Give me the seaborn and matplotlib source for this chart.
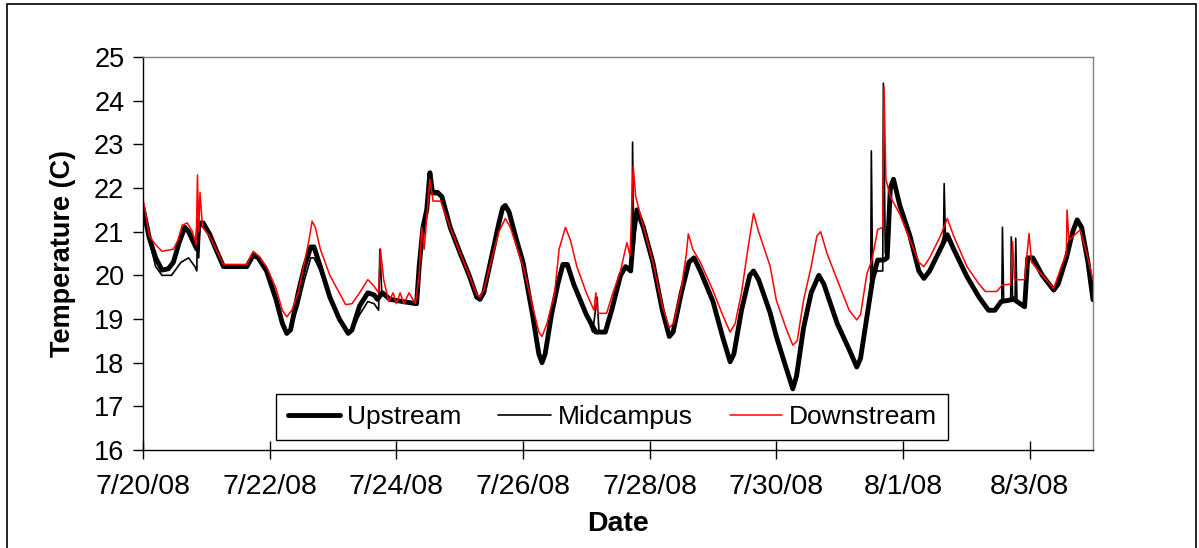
#! /usr/bin/env python3

import pandas as pd
import seaborn as sns
import matplotlib.pyplot as plt
from matplotlib.patches import Rectangle
from matplotlib.dates import num2date
from matplotlib.ticker import FuncFormatter

# readings: time in days after 7/20/08 00:00, temperature in C
up_days = [0.0, 0.1, 0.2, 0.3, 0.4, 0.48, 0.57, 0.66, 0.72, 0.8, 0.85, 0.88, 0.95, 1.05, 1.15,
           1.27, 1.64, 1.74, 1.82, 1.95, 2.1, 2.2, 2.27, 2.33, 2.45, 2.55, 2.65, 2.7, 2.8, 2.95,
           3.1, 3.24, 3.3, 3.42, 3.55, 3.65, 3.7, 3.78, 3.9, 4.1, 4.32, 4.36, 4.42, 4.48, 4.53,
           4.57, 4.65, 4.72, 4.85, 5.01, 5.15, 5.27, 5.32, 5.38, 5.5, 5.62, 5.68, 5.72, 5.78, 5.9,
           6.0, 6.15, 6.25, 6.3, 6.35, 6.45, 6.55, 6.63, 6.7, 6.8, 7.0, 7.15, 7.3, 7.4, 7.54,
           7.62, 7.7, 7.75, 7.8, 7.9, 8.05, 8.2, 8.31, 8.37, 8.5, 8.62, 8.7, 8.8, 9.0, 9.15,
           9.27, 9.33, 9.45, 9.58, 9.64, 9.72, 9.9, 10.0, 10.15, 10.26, 10.32, 10.43, 10.55, 10.67,
           10.75, 10.96, 11.15, 11.27, 11.33, 11.43, 11.52, 11.6, 11.7, 11.75, 11.8, 11.85, 11.95,
           12.11, 12.25, 12.33, 12.42, 12.59, 12.7, 12.8, 13.01, 13.2, 13.35, 13.45, 13.55, 13.75,
           13.92, 13.97, 14.05, 14.2, 14.38, 14.45, 14.58, 14.68, 14.75, 14.82, 14.92, 15.0]
up_temp = [21.55, 20.85, 20.4, 20.12, 20.15, 20.3, 20.75, 21.1, 21.0, 20.75, 20.6, 21.2, 21.2, 20.95, 20.6,
           20.2, 20.2, 20.46, 20.4, 20.1, 19.45, 18.9, 18.67, 18.75, 19.6, 20.2, 20.65, 20.65, 20.2, 19.5,
           19.0, 18.67, 18.75, 19.3, 19.6, 19.55, 19.45, 19.6, 19.45, 19.4, 19.35, 20.2, 21.1, 21.5, 22.35,
           21.9, 21.9, 21.8, 21.1, 20.5, 20.0, 19.5, 19.45, 19.6, 20.4, 21.2, 21.55, 21.6, 21.45, 20.8,
           20.3, 19.1, 18.2, 18.0, 18.2, 19.1, 19.8, 20.25, 20.25, 19.8, 19.1, 18.7, 18.7, 19.2, 20.0,
           20.2, 20.1, 21.0, 21.5, 21.1, 20.3, 19.2, 18.6, 18.7, 19.6, 20.3, 20.4, 20.1, 19.4, 18.6,
           18.02, 18.2, 19.2, 20.0, 20.1, 19.9, 19.15, 18.6, 17.9, 17.4, 17.7, 18.8, 19.6, 20.0,
           19.8, 18.9, 18.3, 17.9, 18.1, 19.05, 19.9, 20.35, 20.35, 20.4, 22.0, 22.2, 21.6,
           20.9, 20.1, 19.93, 20.1, 20.6, 20.93, 20.6, 19.97, 19.5, 19.2, 19.2, 19.4, 19.45,
           19.28, 20.4, 20.4, 20.0, 19.66, 19.8, 20.4, 21.0, 21.27, 21.1, 20.3, 19.44]

mid_days = [0.0, 0.1, 0.2, 0.3, 0.45, 0.6, 0.72, 0.82, 0.85, 0.86, 0.88, 0.9, 0.95, 1.05, 1.15,
            1.27, 1.64, 1.74, 1.82, 1.95, 2.1, 2.2, 2.27, 2.33, 2.45, 2.55, 2.65, 2.7, 2.8, 2.95,
            3.1, 3.24, 3.3, 3.42, 3.55, 3.65, 3.72, 3.74, 3.77, 3.9, 4.1, 4.32, 4.36, 4.42, 4.48,
            4.53, 4.57, 4.65, 4.72, 4.85, 5.01, 5.15, 5.27, 5.32, 5.38, 5.5, 5.62, 5.68, 5.72, 5.78,
            5.9, 6.0, 6.15, 6.25, 6.3, 6.35, 6.45, 6.55, 6.63, 6.7, 6.8, 7.0, 7.1, 7.17, 7.2,
            7.3, 7.4, 7.54, 7.62, 7.72, 7.73, 7.75, 7.8, 7.9, 8.05, 8.2, 8.31, 8.37, 8.5, 8.62,
            8.7, 8.8, 9.0, 9.15, 9.27, 9.33, 9.45, 9.58, 9.64, 9.72, 9.9, 10.0, 10.15, 10.26, 10.32,
            10.43, 10.55, 10.67, 10.75, 10.96, 11.15, 11.27, 11.33, 11.43, 11.49, 11.5, 11.52, 11.6,
            11.68, 11.69, 11.72, 11.8, 11.85, 11.95, 12.11, 12.25, 12.33, 12.42, 12.59, 12.64, 12.65,
            12.67, 12.8, 13.01, 13.2, 13.35, 13.45, 13.56, 13.57, 13.59, 13.7, 13.71, 13.73, 13.77,
            13.78, 13.8, 13.92, 13.97, 14.05, 14.2, 14.38, 14.45, 14.58, 14.68, 14.75, 14.82, 14.92, 15.0]
mid_temp = [21.55, 20.8, 20.2, 20.0, 20.0, 20.3, 20.4, 20.2, 20.1, 21.3, 20.4, 21.1, 21.15, 20.95, 20.6,
            20.2, 20.2, 20.45, 20.4, 20.1, 19.45, 18.9, 18.67, 18.75, 19.3, 19.9, 20.4, 20.4, 20.1, 19.5,
            19.0, 18.67, 18.75, 19.1, 19.4, 19.35, 19.2, 20.6, 19.6, 19.45, 19.4, 19.35, 20.3, 21.0, 21.4,
            22.2, 21.85, 21.85, 21.8, 21.1, 20.5, 20.0, 19.5, 19.45, 19.6, 20.4, 21.15, 21.5, 21.55, 21.4,
            20.8, 20.3, 19.1, 18.2, 18.0, 18.2, 19.1, 19.8, 20.2, 20.2, 19.8, 19.1, 18.7, 19.5, 18.7,
            18.7, 19.2, 19.95, 20.15, 20.1, 23.05, 20.6, 21.45, 21.1, 20.3, 19.2, 18.6, 18.7, 19.6, 20.3,
            20.4, 20.1, 19.4, 18.6, 18.02, 18.2, 19.2, 20.0, 20.1, 19.9, 19.15, 18.6, 17.9, 17.4, 17.7,
            18.8, 19.6, 20.0, 19.8, 18.9, 18.3, 17.9, 18.1, 19.05, 19.8, 22.85, 20.0, 20.1,
            20.1, 24.4, 20.5, 21.9, 22.1, 21.6, 20.9, 20.1, 19.93, 20.1, 20.6, 20.9, 22.1,
            20.9, 20.6, 19.97, 19.5, 19.2, 19.2, 19.4, 21.1, 19.4, 19.45, 20.88, 19.5, 19.5,
            20.85, 19.4, 19.28, 20.4, 20.4, 20.0, 19.66, 19.8, 20.4, 21.0, 21.2, 21.05, 20.3, 19.44]

down_days = [0.0, 0.1, 0.2, 0.3, 0.48, 0.55, 0.62, 0.7, 0.78, 0.84, 0.86, 0.88, 0.9, 0.94, 1.05,
             1.15, 1.27, 1.64, 1.74, 1.82, 1.95, 2.1, 2.2, 2.27, 2.35, 2.45, 2.55, 2.62, 2.67, 2.72,
             2.8, 2.95, 3.1, 3.2, 3.3, 3.42, 3.55, 3.65, 3.72, 3.75, 3.8, 3.88, 3.95, 4.0, 4.06,
             4.12, 4.2, 4.3, 4.36, 4.4, 4.44, 4.53, 4.58, 4.7, 4.85, 5.01, 5.15, 5.27, 5.32, 5.38,
             5.5, 5.62, 5.72, 5.8, 5.9, 6.0, 6.15, 6.25, 6.3, 6.38, 6.5, 6.57, 6.63, 6.67, 6.75,
             6.85, 7.0, 7.12, 7.15, 7.18, 7.32, 7.42, 7.54, 7.64, 7.69, 7.74, 7.78, 7.85, 8.05, 8.2,
             8.31, 8.38, 8.5, 8.58, 8.61, 8.68, 8.8, 9.0, 9.15, 9.27, 9.35, 9.45, 9.55, 9.64, 9.72,
             9.9, 10.0, 10.15, 10.26, 10.33, 10.43, 10.55, 10.64, 10.7, 10.8, 10.96, 11.15, 11.27,
             11.33, 11.43, 11.51, 11.6, 11.68, 11.7, 11.73, 11.8, 11.95, 12.11, 12.25, 12.33, 12.42,
             12.59, 12.7, 12.8, 13.01, 13.2, 13.3, 13.48, 13.57, 13.7, 13.73, 13.76, 13.92, 13.99,
             14.03, 14.2, 14.38, 14.5, 14.58, 14.59, 14.62, 14.75, 14.8, 14.9, 15.0]
down_temp = [21.75, 20.9, 20.7, 20.55, 20.6, 20.8, 21.15, 21.2, 21.0, 20.7, 22.3, 21.0, 21.9, 21.1, 20.9,
             20.6, 20.25, 20.25, 20.55, 20.45, 20.2, 19.7, 19.2, 19.05, 19.2, 19.6, 20.3, 20.8, 21.24, 21.1,
             20.6, 20.0, 19.6, 19.33, 19.35, 19.6, 19.9, 19.75, 19.6, 20.6, 19.9, 19.4, 19.6, 19.35, 19.6,
             19.35, 19.6, 19.35, 20.0, 21.1, 20.6, 22.2, 21.7, 21.7, 21.1, 20.5, 20.0, 19.55, 19.5, 19.65,
             20.35, 21.0, 21.3, 21.1, 20.65, 20.22, 19.3, 18.7, 18.6, 18.9, 19.6, 20.6, 20.9, 21.1, 20.8,
             20.2, 19.6, 19.2, 19.6, 19.13, 19.13, 19.6, 20.1, 20.75, 20.45, 22.5, 21.8, 21.4, 20.3, 19.3,
             18.8, 18.9, 19.7, 20.5, 20.95, 20.6, 20.3, 19.65, 19.1, 18.7, 18.9, 19.6, 20.6, 21.42, 21.0,
             20.22, 19.43, 18.8, 18.4, 18.5, 19.43, 20.2, 20.9, 21.0, 20.5, 19.9, 19.2, 18.98,
             19.1, 20.04, 20.35, 21.05, 21.1, 24.32, 22.2, 21.8, 21.4, 20.81, 20.3, 20.2, 20.4,
             20.9, 21.3, 20.9, 20.2, 19.8, 19.63, 19.63, 19.78, 19.8, 20.77, 19.9, 19.9, 20.96,
             20.3, 20.0, 19.7, 20.2, 20.5, 21.5, 20.8, 20.98, 21.04, 20.5, 19.9]

start = pd.Timestamp("2008-07-20")
major_dates = pd.date_range(start, periods=8, freq="2D")
minor_dates = pd.date_range(start, start + pd.Timedelta(days=15), freq="6h")


def to_frame(days, temps):
    return pd.DataFrame({"date": start + pd.to_timedelta(days, unit="D"), "temp": temps})


sns.set_style("white")
plt.rcParams["font.family"] = ["Liberation Sans", "DejaVu Sans"]
plt.rcParams.update({"text.color": "black", "axes.labelcolor": "black",
                     "xtick.color": "black", "ytick.color": "black"})

fig = plt.figure(figsize=(11.99, 5.48), dpi=100)
ax = fig.add_axes([143 / 1199, 1 - 450 / 548, 950 / 1199, 393 / 548])

sns.lineplot(data=to_frame(up_days, up_temp), x="date", y="temp", ax=ax,
             color="black", linewidth=3.5, label="Upstream")
sns.lineplot(data=to_frame(mid_days, mid_temp), x="date", y="temp", ax=ax,
             color="black", linewidth=1.2, label="Midcampus")
sns.lineplot(data=to_frame(down_days, down_temp), x="date", y="temp", ax=ax,
             color="#ff0000", linewidth=1.1, label="Downstream")

ax.set_xlim(start, start + pd.Timedelta(days=15))
ax.set_ylim(16, 25)
ax.set_yticks(range(16, 26))
ax.set_xticks(major_dates)
ax.set_xticks(minor_dates, minor=True)
ax.xaxis.set_major_formatter(FuncFormatter(
    lambda v, p: "%d/%d/%s" % (num2date(v).month, num2date(v).day, num2date(v).strftime("%y"))))

ax.tick_params(axis="y", direction="out", length=7.5, width=1, pad=6, labelsize=19.5,
               color="black", labelcolor="black")
ax.tick_params(axis="x", which="major", direction="inout", length=13, width=1, pad=11,
               labelsize=20.5, color="black", labelcolor="black")
ax.tick_params(axis="x", which="minor", direction="out", length=4.5, width=1, color="black")
ax.xaxis.set_tick_params(bottom=True)
ax.yaxis.set_tick_params(left=True)

ax.set_xlabel("Date", fontsize=20.5, fontweight="bold", labelpad=8, color="black")
ax.set_ylabel("Temperature (C)", fontsize=19.5, fontweight="bold", labelpad=13, color="black")

for side in ["top", "right"]:
    ax.spines[side].set_color("#808080")
for side in ["left", "bottom"]:
    ax.spines[side].set_color("black")
for s in ax.spines.values():
    s.set_linewidth(1)

leg = ax.legend(loc="lower center", bbox_to_anchor=(0.494, 0.025), ncol=3, fontsize=19,
                frameon=True, fancybox=False, framealpha=1, edgecolor="black",
                handlelength=2.0, handletextpad=0.25, columnspacing=1.4, borderpad=0.42,
                borderaxespad=0)
leg.get_frame().set_linewidth(1)
for t in leg.get_texts():
    t.set_color("black")

fig.patches.append(Rectangle((7 / 1199, -0.05), 1189 / 1199, 1.05 - 4 / 548, transform=fig.transFigure,
                             fill=False, edgecolor="black", linewidth=1.2))

fig.savefig("out.png", dpi=100)
